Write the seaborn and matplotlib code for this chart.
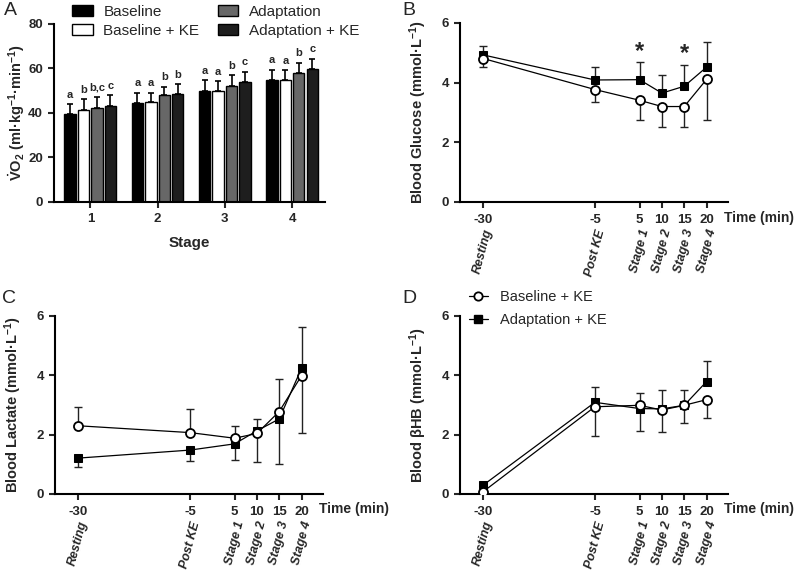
import numpy as np
import pandas as pd
import matplotlib
matplotlib.use("Agg")
import matplotlib.pyplot as plt
import matplotlib.transforms as mtransforms
from matplotlib.patches import Patch
from matplotlib.lines import Line2D
import seaborn as sns

# ---- data ----
stages = ["1", "2", "3", "4"]
conditions = ["Baseline", "Baseline + KE", "Adaptation", "Adaptation + KE"]
vo2_baseline = [39.4, 44.5, 49.9, 54.8]
vo2_baseline_ke = [41.3, 45.1, 49.9, 55.0]
vo2_adapt = [42.1, 48.0, 52.3, 58.0]
vo2_adapt_ke = [43.3, 48.4, 54.1, 59.8]
vo2_sd_baseline = [4.5, 4.6, 4.9, 4.7]
vo2_sd_baseline_ke = [5.0, 4.0, 4.3, 4.2]
vo2_sd_adapt = [5.2, 3.8, 4.8, 4.6]
vo2_sd_adapt_ke = [4.8, 4.6, 4.5, 4.6]
vo2_letters = [["a", "a", "a", "a"],
               ["b", "a", "a", "a"],
               ["b,c", "b", "b", "b"],
               ["c", "b", "c", "c"]]

times = [-30, -5, 5, 10, 15, 20]
time_labels = ["Resting", "Post KE", "Stage 1", "Stage 2", "Stage 3", "Stage 4"]

glu_base_ke = [4.81, 3.77, 3.41, 3.20, 3.20, 4.11]
glu_base_ke_lo = [0.27, 0.41, 0.67, 0.69, 0.67, 1.37]
glu_base_ke_hi = [0, 0, 0, 0, 0, 0]
glu_adapt_ke = [4.93, 4.09, 4.10, 3.65, 3.88, 4.52]
glu_adapt_ke_lo = [0, 0, 0, 0, 0, 0]
glu_adapt_ke_hi = [0.29, 0.44, 0.60, 0.62, 0.72, 0.85]
glu_sig_times = [5, 15]
glu_sig_y = [5.05, 4.97]

lac_base_ke = [2.30, 2.07, 1.88, 2.04, 2.78, 3.99]
lac_base_ke_lo = [0, 0, 0, 0.95, 0, 1.93]
lac_base_ke_hi = [0.63, 0.79, 0.42, 0, 1.08, 0]
lac_adapt_ke = [1.21, 1.48, 1.69, 2.13, 2.53, 4.24]
lac_adapt_ke_lo = [0.29, 0.37, 0.56, 0, 1.52, 0]
lac_adapt_ke_hi = [0, 0, 0, 0.40, 0, 1.38]

bhb_base_ke = [0.08, 2.94, 2.99, 2.83, 2.99, 3.18]
bhb_base_ke_lo = [0, 1.00, 0, 0.73, 0.60, 0.61]
bhb_base_ke_hi = [0, 0, 0.41, 0, 0, 0]
bhb_adapt_ke = [0.30, 3.09, 2.88, 2.87, 2.99, 3.79]
bhb_adapt_ke_lo = [0, 0, 0.74, 0, 0, 0]
bhb_adapt_ke_hi = [0, 0.50, 0, 0.63, 0.51, 0.71]

bar_colors = ["#000000", "#ffffff", "#676767", "#1e1e1e"]

# ---- style ----
sns.set_style("ticks")
plt.rcParams["font.family"] = ["Liberation Sans", "DejaVu Sans"]
plt.rcParams["mathtext.fontset"] = "custom"
plt.rcParams["mathtext.rm"] = "Liberation Sans"
plt.rcParams["mathtext.bf"] = "Liberation Sans:bold"
plt.rcParams["mathtext.it"] = "Liberation Sans:italic"
plt.rcParams["mathtext.default"] = "bf"
plt.rcParams["axes.linewidth"] = 1.5
plt.rcParams["xtick.major.width"] = 1.5
plt.rcParams["ytick.major.width"] = 1.5
plt.rcParams["xtick.major.size"] = 4.5
plt.rcParams["ytick.major.size"] = 4.5
plt.rcParams["xtick.labelsize"] = 9.5
plt.rcParams["ytick.labelsize"] = 9.5
plt.rcParams["axes.edgecolor"] = "black"

fig = plt.figure(figsize=(8, 5.77), dpi=100)


def rect(l, t, r, b):
    return [l / 800, 1 - b / 577, (r - l) / 800, (b - t) / 577]


def bold_ticks(ax):
    for lab in ax.get_xticklabels() + ax.get_yticklabels():
        lab.set_fontweight("bold")


# ---- panel A ----
axA = fig.add_axes(rect(54, 24, 325, 202))
df = pd.DataFrame({
    "stage": stages * 4,
    "cond": np.repeat(conditions, 4),
    "vo2": vo2_baseline + vo2_baseline_ke + vo2_adapt + vo2_adapt_ke,
})
sns.barplot(data=df, x="stage", y="vo2", hue="cond", hue_order=conditions,
            palette=bar_colors, edgecolor="black", linewidth=1,
            errorbar=None, gap=0.15, width=0.8, legend=False, ax=axA)
sds = [vo2_sd_baseline, vo2_sd_baseline_ke, vo2_sd_adapt, vo2_sd_adapt_ke]
bar_conts = list(axA.containers)
for ci, cont in enumerate(bar_conts):
    for si, bar in enumerate(cont.patches):
        xc = bar.get_x() + bar.get_width() / 2
        h = bar.get_height()
        axA.errorbar(xc, h, yerr=[[0], [sds[ci][si]]], fmt="none",
                     ecolor="black", elinewidth=1.2, capsize=2.5, capthick=1.2)
        axA.text(xc, h + sds[ci][si] + 2.0, vo2_letters[ci][si], ha="center",
                 va="bottom", fontsize=8, fontweight="bold")
axA.set_ylim(0, 80)
axA.set_yticks([0, 20, 40, 60, 80])
axA.set_xlim(-0.54, 3.49)
axA.set_xlabel("Stage", fontsize=11, fontweight="bold", labelpad=8)
axA.set_ylabel(r"$\dot{V}$O$_2$ (ml·kg$^{-1}$·min$^{-1}$)", fontsize=10.5,
               fontweight="bold")
axA.yaxis.set_label_coords(-0.1, 0.5)
sns.despine(ax=axA)
bold_ticks(axA)
handles = [Patch(facecolor=c, edgecolor="black", linewidth=1) for c in bar_colors]
fig.legend(handles, conditions, loc="upper left", bbox_to_anchor=(72 / 800, 1 - 5 / 577),
           ncol=2, frameon=False, fontsize=11, handlelength=1.35, handleheight=0.7,
           handletextpad=0.7, columnspacing=1.2, labelspacing=0.3, borderpad=0,
           borderaxespad=0)


# ---- line panels ----
def line_panel(ax, base, base_lo, base_hi, adapt, adapt_lo, adapt_hi, ylabel):
    ax.errorbar(times, base, yerr=[base_lo, base_hi], fmt="none", ecolor="#222222",
                elinewidth=1.0, capsize=3, capthick=1.0, zorder=1)
    ax.errorbar(times, adapt, yerr=[adapt_lo, adapt_hi], fmt="none", ecolor="#222222",
                elinewidth=1.0, capsize=3, capthick=1.0, zorder=1)
    sns.lineplot(x=times, y=adapt, ax=ax, color="black", linewidth=0.9,
                 marker="s", markersize=6, markeredgecolor="black",
                 markerfacecolor="black", zorder=3)
    sns.lineplot(x=times, y=base, ax=ax, color="black", linewidth=0.9,
                 marker="o", markersize=6.5, markeredgecolor="black",
                 markerfacecolor="white", markeredgewidth=1.3, zorder=4)
    ax.set_ylim(0, 6)
    ax.set_yticks([0, 2, 4, 6])
    ax.set_xlim(-35.2, 24.8)
    ax.set_xticks(times)
    ax.set_xticklabels([str(t) for t in times])
    ax.set_ylabel(ylabel, fontsize=10.5, fontweight="bold")
    ax.yaxis.set_label_coords(-0.115, 0.5)
    sns.despine(ax=ax)
    bold_ticks(ax)
    ax.tick_params(axis="x", pad=4)
    ax.text(0.985, -0.087, "Time (min)", transform=ax.transAxes, ha="left",
            va="center", fontsize=10, fontweight="bold")
    tr = mtransforms.blended_transform_factory(ax.transData, ax.transAxes)
    for t, lab in zip(times, time_labels):
        ax.text(t, -0.145, lab, transform=tr, rotation=75, ha="center", va="top",
                fontsize=9, fontweight="bold", fontstyle="italic")


axB = fig.add_axes(rect(460, 23, 728, 202))
line_panel(axB, glu_base_ke, glu_base_ke_lo, glu_base_ke_hi,
           glu_adapt_ke, glu_adapt_ke_lo, glu_adapt_ke_hi,
           "Blood Glucose (mmol·L$^{-1}$)")
for t, y in zip(glu_sig_times, glu_sig_y):
    axB.text(t, y, "*", ha="center", va="center", fontsize=17, fontweight="bold")

axC = fig.add_axes(rect(55, 316, 323, 494))
line_panel(axC, lac_base_ke, lac_base_ke_lo, lac_base_ke_hi,
           lac_adapt_ke, lac_adapt_ke_lo, lac_adapt_ke_hi,
           "Blood Lactate (mmol·L$^{-1}$)")

axD = fig.add_axes(rect(460, 316, 728, 494))
line_panel(axD, bhb_base_ke, bhb_base_ke_lo, bhb_base_ke_hi,
           bhb_adapt_ke, bhb_adapt_ke_lo, bhb_adapt_ke_hi,
           "Blood βHB (mmol·L$^{-1}$)")
leg_handles = [
    Line2D([], [], color="black", lw=0.9, marker="o", markersize=6,
           markerfacecolor="white", markeredgewidth=1.3),
    Line2D([], [], color="black", lw=0.9, marker="s", markersize=6),
]
fig.legend(leg_handles, ["Baseline + KE", "Adaptation + KE"], loc="upper left",
           bbox_to_anchor=(469 / 800, 1 - 290 / 577), frameon=False, fontsize=10.5,
           handlelength=1.3, handletextpad=0.8, labelspacing=0.6, borderpad=0,
           borderaxespad=0)

# ---- panel letters ----
for lab, x, y in [("A", 4, 2), ("B", 402, 2), ("C", 2, 290), ("D", 402, 290)]:
    fig.text(x / 800, 1 - y / 577, lab, fontsize=14, ha="left", va="top")

fig.savefig("out.png", dpi=100)
